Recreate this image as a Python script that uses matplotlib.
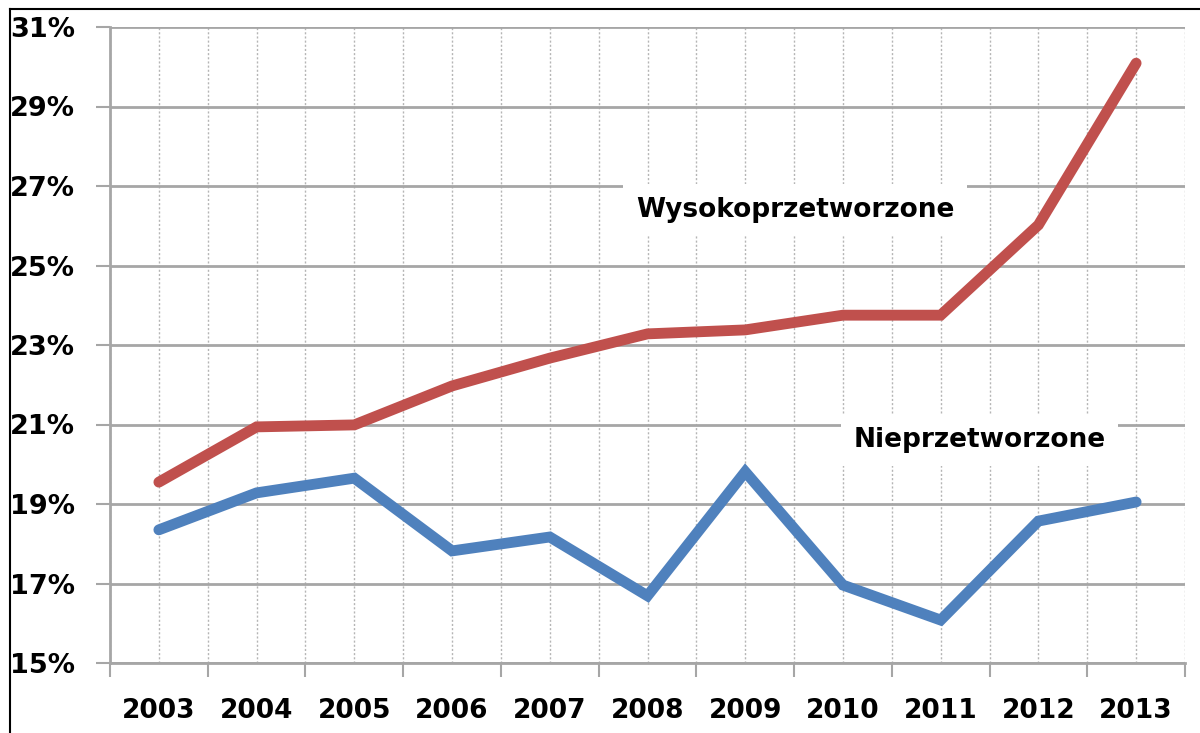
#!/usr/bin/env python3
# Line chart: share of highly processed vs unprocessed goods, 2003-2013

import matplotlib
matplotlib.use("Agg")
import matplotlib.pyplot as plt
from matplotlib.lines import Line2D

# ===================== DATA =====================
YEARS = ["2003", "2004", "2005", "2006", "2007", "2008",
         "2009", "2010", "2011", "2012", "2013"]
WYSOKO = [19.55, 20.94, 20.99, 21.97, 22.67, 23.28,
          23.38, 23.75, 23.75, 26.02, 30.09]
NIEPRZ = [18.35, 19.28, 19.65, 17.82, 18.17, 16.69,
          19.81, 16.96, 16.08, 18.57, 19.05]
Y_TICKS = [15, 17, 19, 21, 23, 25, 27, 29, 31]

RED = "#C0504D"
BLUE = "#4F81BD"
GRID = "#A6A6A6"

plt.rcParams.update({
    "font.family": "DejaVu Sans",
    "font.weight": "bold",
})

fig = plt.figure(figsize=(12, 7.33), dpi=100)
ax = fig.add_axes([110 / 1200, 1 - 663 / 733, 1075 / 1200, 636 / 733])

x = list(range(len(YEARS)))
ax.plot(x, WYSOKO, color=RED, lw=7.8, solid_capstyle="round",
        solid_joinstyle="miter", zorder=4)
ax.plot(x, NIEPRZ, color=BLUE, lw=7.8, solid_capstyle="round",
        solid_joinstyle="miter", zorder=4)

ax.set_xlim(-0.5, len(YEARS) - 0.5)
ax.set_ylim(Y_TICKS[0], Y_TICKS[-1])

# year labels at centres, tick marks at category boundaries
ax.set_xticks(x)
ax.set_xticklabels(YEARS, fontsize=19, fontweight="bold")
ax.set_xticks([i - 0.5 for i in range(len(YEARS) + 1)], minor=True)
ax.tick_params(axis="x", which="major", length=0, pad=25)
ax.tick_params(axis="x", which="minor", length=10, width=1.5, color=GRID)

ax.set_yticks(Y_TICKS)
ax.set_yticklabels([f"{v}%" for v in Y_TICKS], fontsize=19.5, fontweight="bold")
ax.tick_params(axis="y", length=10, width=1.5, color=GRID, pad=15)

# grids
ax.grid(axis="y", color=GRID, lw=2, ls="-", zorder=1)
ax.grid(axis="x", which="both", color="#B5B5B5", lw=1, ls=(0, (1.5, 1.5)), zorder=1)
ax.set_axisbelow(True)

for side in ["top", "right"]:
    ax.spines[side].set_visible(False)
for side in ["left", "bottom"]:
    ax.spines[side].set_color(GRID)
    ax.spines[side].set_linewidth(2)

# series labels with white boxes that hide the gridlines behind them
ax.text(6.51, 26.4, "Wysokoprzetworzone", ha="center", va="center",
        fontsize=19, fontweight="bold", zorder=3,
        bbox=dict(facecolor="white", edgecolor="none", pad=9))
ax.text(8.4, 20.6, "Nieprzetworzone", ha="center", va="center",
        fontsize=19, fontweight="bold", zorder=3,
        bbox=dict(facecolor="white", edgecolor="none", pad=9))

# outer frame (top and left edges)
fig.add_artist(Line2D([10 / 1200, 10 / 1200], [0, 1 - 9 / 733],
                      transform=fig.transFigure, color="black", lw=1.5))
fig.add_artist(Line2D([10 / 1200, 1], [1 - 9 / 733, 1 - 9 / 733],
                      transform=fig.transFigure, color="black", lw=1.5))

fig.savefig("out.png", dpi=100)
